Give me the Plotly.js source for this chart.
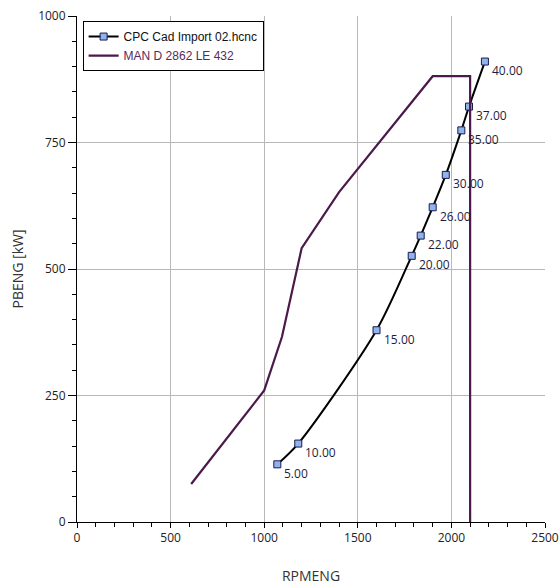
<!DOCTYPE html>
<html>
<head>
<meta charset="utf-8">
<script src="https://cdn.plot.ly/plotly-3.0.1.min.js"></script>
<style>html,body{margin:0;padding:0;background:#fff;}#chart{width:560px;height:587px;}</style>
</head>
<body>
<div id="chart"></div>
<script>
// CPC Cad Import 02.hcnc : engine speed vs brake power, labelled with ship speed
const cpcRpm   = [1070, 1182, 1600, 1788, 1836, 1900, 1970, 2053, 2094, 2179];
const cpcPower = [114, 155, 379, 526, 566, 622, 686, 774, 821, 910];
const cpcLabels = ['5.00','10.00','15.00','20.00','22.00','26.00','30.00','35.00','37.00','40.00'];

// MAN D 2862 LE 432 engine envelope
const manRpm   = [610, 1000, 1095, 1200, 1400, 1900, 2100, 2100];
const manPower = [75, 260, 366, 541, 652, 881, 881, 0];

const xTickVals = [0, 500, 1000, 1500, 2000, 2500];
const yTickVals = [0, 250, 500, 750, 1000];

const traces = [
  {
    x: cpcRpm, y: cpcPower, type: 'scatter', mode: 'lines+markers',
    name: 'CPC Cad Import 02.hcnc',
    line: {color: '#000000', width: 2, shape: 'spline', smoothing: 0.8},
    marker: {symbol: 'square', size: 7, color: '#8fb4ea', line: {color: '#1a1a50', width: 1}}
  },
  {
    x: manRpm, y: manPower, type: 'scatter', mode: 'lines',
    name: '<span style="color:#5a2a5a">MAN D 2862 LE 432</span>',
    line: {color: '#4a1a4a', width: 2.2}
  }
];

const annotations = cpcRpm.map((r, i) => ({
  x: r, y: cpcPower[i], xref: 'x', yref: 'y',
  text: cpcLabels[i], showarrow: false,
  xanchor: 'left', yanchor: 'middle', xshift: 5, yshift: -9,
  font: {family: 'Open Sans, sans-serif', size: 12, color: '#1e1e3c'}
}));

const axisFont = {family: 'Open Sans, sans-serif', size: 12, color: '#222'};

const layout = {
  width: 560, height: 587,
  margin: {l: 76.5, r: 14.5, t: 15.7, b: 64.7},
  paper_bgcolor: '#fff', plot_bgcolor: '#fff',
  showlegend: true,
  legend: {
    x: 0.012, y: 0.99, xanchor: 'left', yanchor: 'top',
    bgcolor: '#fff', bordercolor: '#000', borderwidth: 1,
    font: {family: 'Liberation Sans, Arial, sans-serif', size: 12, color: '#111'},
    itemwidth: 30, tracegroupgap: 0
  },
  xaxis: {
    range: [0, 2500], tickvals: xTickVals, ticks: 'outside', ticklen: 5, tickcolor: '#000',
    showline: true, linecolor: '#000', linewidth: 1,
    showgrid: true, gridcolor: '#b8b8b8', gridwidth: 1, zeroline: false,
    minor: {dtick: 100, ticks: 'outside', ticklen: 4, tickcolor: '#000', showgrid: false},
    tickfont: axisFont,
    title: {text: 'RPMENG', font: {family: 'Open Sans, sans-serif', size: 14, color: '#333'}, standoff: 25}
  },
  yaxis: {
    range: [0, 1000], tickvals: yTickVals, ticks: 'outside', ticklen: 8, tickcolor: '#000',
    showline: true, linecolor: '#000', linewidth: 1,
    showgrid: true, gridcolor: '#b8b8b8', gridwidth: 1, zeroline: false,
    minor: {dtick: 50, ticks: 'outside', ticklen: 4, tickcolor: '#000', showgrid: false},
    tickfont: axisFont,
    title: {text: 'PBENG [kW]', font: {family: 'Open Sans, sans-serif', size: 14, color: '#333'}, standoff: 11}
  },
  annotations: annotations
};

Plotly.newPlot('chart', traces, layout, {displayModeBar: false, staticPlot: true});
</script>
</body>
</html>
